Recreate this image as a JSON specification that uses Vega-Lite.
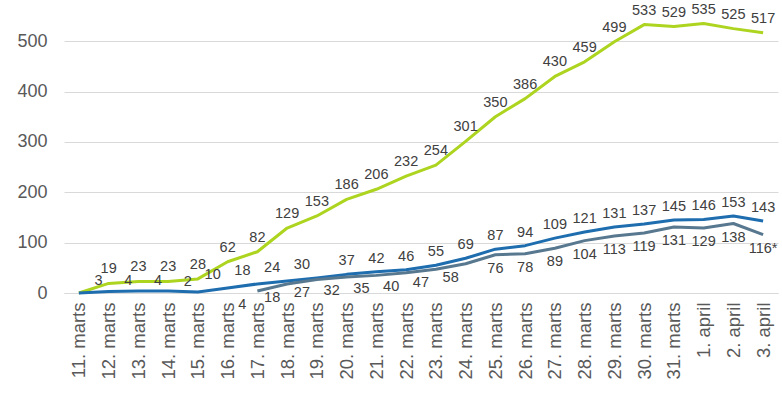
{
  "$schema": "https://vega.github.io/schema/vega-lite/v6.json",
  "width": 714,
  "height": 282,
  "autosize": {"type": "none"},
  "padding": {"left": 64, "top": 11, "right": 4, "bottom": 102},
  "background": "white",
  "config": {"view": {"stroke": null}, "font": "Liberation Sans"},
  "data": {"values": [
    {"date": "11. marts", "series": "green", "value": 0},
    {"date": "12. marts", "series": "green", "value": 19, "label": "19"},
    {"date": "13. marts", "series": "green", "value": 23, "label": "23"},
    {"date": "14. marts", "series": "green", "value": 23, "label": "23"},
    {"date": "15. marts", "series": "green", "value": 28, "label": "28"},
    {"date": "16. marts", "series": "green", "value": 62, "label": "62"},
    {"date": "17. marts", "series": "green", "value": 82, "label": "82"},
    {"date": "18. marts", "series": "green", "value": 129, "label": "129"},
    {"date": "19. marts", "series": "green", "value": 153, "label": "153"},
    {"date": "20. marts", "series": "green", "value": 186, "label": "186"},
    {"date": "21. marts", "series": "green", "value": 206, "label": "206"},
    {"date": "22. marts", "series": "green", "value": 232, "label": "232"},
    {"date": "23. marts", "series": "green", "value": 254, "label": "254"},
    {"date": "24. marts", "series": "green", "value": 301, "label": "301"},
    {"date": "25. marts", "series": "green", "value": 350, "label": "350"},
    {"date": "26. marts", "series": "green", "value": 386, "label": "386"},
    {"date": "27. marts", "series": "green", "value": 430, "label": "430"},
    {"date": "28. marts", "series": "green", "value": 459, "label": "459"},
    {"date": "29. marts", "series": "green", "value": 499, "label": "499"},
    {"date": "30. marts", "series": "green", "value": 533, "label": "533"},
    {"date": "31. marts", "series": "green", "value": 529, "label": "529"},
    {"date": "1. april", "series": "green", "value": 535, "label": "535"},
    {"date": "2. april", "series": "green", "value": 525, "label": "525"},
    {"date": "3. april", "series": "green", "value": 517, "label": "517"},
    {"date": "11. marts", "series": "blue", "value": 0},
    {"date": "12. marts", "series": "blue", "value": 3, "label": "3"},
    {"date": "13. marts", "series": "blue", "value": 4, "label": "4"},
    {"date": "14. marts", "series": "blue", "value": 4, "label": "4"},
    {"date": "15. marts", "series": "blue", "value": 2, "label": "2"},
    {"date": "16. marts", "series": "blue", "value": 10, "label": "10"},
    {"date": "17. marts", "series": "blue", "value": 18, "label": "18"},
    {"date": "18. marts", "series": "blue", "value": 24, "label": "24"},
    {"date": "19. marts", "series": "blue", "value": 30, "label": "30"},
    {"date": "20. marts", "series": "blue", "value": 37, "label": "37"},
    {"date": "21. marts", "series": "blue", "value": 42, "label": "42"},
    {"date": "22. marts", "series": "blue", "value": 46, "label": "46"},
    {"date": "23. marts", "series": "blue", "value": 55, "label": "55"},
    {"date": "24. marts", "series": "blue", "value": 69, "label": "69"},
    {"date": "25. marts", "series": "blue", "value": 87, "label": "87"},
    {"date": "26. marts", "series": "blue", "value": 94, "label": "94"},
    {"date": "27. marts", "series": "blue", "value": 109, "label": "109"},
    {"date": "28. marts", "series": "blue", "value": 121, "label": "121"},
    {"date": "29. marts", "series": "blue", "value": 131, "label": "131"},
    {"date": "30. marts", "series": "blue", "value": 137, "label": "137"},
    {"date": "31. marts", "series": "blue", "value": 145, "label": "145"},
    {"date": "1. april", "series": "blue", "value": 146, "label": "146"},
    {"date": "2. april", "series": "blue", "value": 153, "label": "153"},
    {"date": "3. april", "series": "blue", "value": 143, "label": "143"},
    {"date": "17. marts", "series": "gray", "value": 4, "label": "4"},
    {"date": "18. marts", "series": "gray", "value": 18, "label": "18"},
    {"date": "19. marts", "series": "gray", "value": 27, "label": "27"},
    {"date": "20. marts", "series": "gray", "value": 32, "label": "32"},
    {"date": "21. marts", "series": "gray", "value": 35, "label": "35"},
    {"date": "22. marts", "series": "gray", "value": 40, "label": "40"},
    {"date": "23. marts", "series": "gray", "value": 47, "label": "47"},
    {"date": "24. marts", "series": "gray", "value": 58, "label": "58"},
    {"date": "25. marts", "series": "gray", "value": 76, "label": "76"},
    {"date": "26. marts", "series": "gray", "value": 78, "label": "78"},
    {"date": "27. marts", "series": "gray", "value": 89, "label": "89"},
    {"date": "28. marts", "series": "gray", "value": 104, "label": "104"},
    {"date": "29. marts", "series": "gray", "value": 113, "label": "113"},
    {"date": "30. marts", "series": "gray", "value": 119, "label": "119"},
    {"date": "31. marts", "series": "gray", "value": 131, "label": "131"},
    {"date": "1. april", "series": "gray", "value": 129, "label": "129"},
    {"date": "2. april", "series": "gray", "value": 138, "label": "138"},
    {"date": "3. april", "series": "gray", "value": 116, "label": "116*"}
  ]},
  "encoding": {
    "x": {
      "field": "date", "type": "ordinal", "sort": null,
      "scale": {"type": "point", "padding": 0.5},
      "axis": {
        "title": null, "labelAngle": 270, "labelAlign": "right", "labelBaseline": "middle",
        "labelFontSize": 18.5, "labelColor": "#595959", "labelPadding": 9,
        "ticks": false, "grid": false, "domainColor": "#d9d9d9", "domainWidth": 1
      }
    },
    "y": {
      "field": "value", "type": "quantitative",
      "scale": {"domain": [0, 560], "nice": false, "zero": true},
      "axis": {
        "title": null, "values": [0, 100, 200, 300, 400, 500],
        "labelFontSize": 18, "labelColor": "#595959", "labelPadding": 17,
        "ticks": false, "domain": false, "gridColor": "#d9d9d9", "gridWidth": 1
      }
    }
  },
  "layer": [
    {
      "mark": {"type": "line", "strokeWidth": 3, "strokeJoin": "round", "strokeCap": "butt"},
      "encoding": {
        "color": {
          "field": "series", "type": "nominal",
          "scale": {"domain": ["green", "blue", "gray"], "range": ["#add41f", "#1e6daf", "#587890"]},
          "legend": null
        },
        "detail": {"field": "series"}
      }
    },
    {
      "transform": [{"filter": "isValid(datum.label)"}, {"filter": {"field": "series", "equal": "green"}}],
      "mark": {"type": "text", "fontSize": 14.5, "color": "#404040", "dy": -14, "baseline": "middle"},
      "encoding": {"text": {"field": "label"}}
    },
    {
      "transform": [
        {"filter": "isValid(datum.label)"},
        {"filter": {"field": "series", "equal": "blue"}},
        {"filter": {"not": {"field": "date", "oneOf": ["12. marts", "13. marts", "14. marts", "15. marts", "16. marts", "17. marts", "18. marts", "19. marts"]}}}
      ],
      "mark": {"type": "text", "fontSize": 14.5, "color": "#404040", "dy": -13, "baseline": "middle"},
      "encoding": {"text": {"field": "label"}}
    },
    {
      "transform": [
        {"filter": {"field": "series", "equal": "blue"}},
        {"filter": {"field": "date", "oneOf": ["12. marts", "13. marts", "14. marts", "15. marts"]}}
      ],
      "mark": {"type": "text", "fontSize": 14.5, "color": "#404040", "dy": -10, "dx": -10, "baseline": "middle"},
      "encoding": {"text": {"field": "label"}}
    },
    {
      "transform": [
        {"filter": {"field": "series", "equal": "blue"}},
        {"filter": {"field": "date", "oneOf": ["16. marts", "17. marts", "18. marts", "19. marts"]}}
      ],
      "mark": {"type": "text", "fontSize": 14.5, "color": "#404040", "dy": -13, "dx": -15, "baseline": "middle"},
      "encoding": {"text": {"field": "label"}}
    },
    {
      "transform": [
        {"filter": {"field": "series", "equal": "gray"}},
        {"filter": {"not": {"field": "date", "oneOf": ["17. marts", "18. marts", "19. marts", "20. marts", "21. marts", "22. marts", "23. marts", "24. marts"]}}}
      ],
      "mark": {"type": "text", "fontSize": 14.5, "color": "#404040", "dy": 14, "baseline": "middle"},
      "encoding": {"text": {"field": "label"}}
    },
    {
      "transform": [
        {"filter": {"field": "series", "equal": "gray"}},
        {"filter": {"field": "date", "oneOf": ["17. marts", "18. marts", "19. marts", "20. marts", "21. marts", "22. marts", "23. marts", "24. marts"]}}
      ],
      "mark": {"type": "text", "fontSize": 14.5, "color": "#404040", "dy": 14, "dx": -15, "baseline": "middle"},
      "encoding": {"text": {"field": "label"}}
    }
  ]
}
